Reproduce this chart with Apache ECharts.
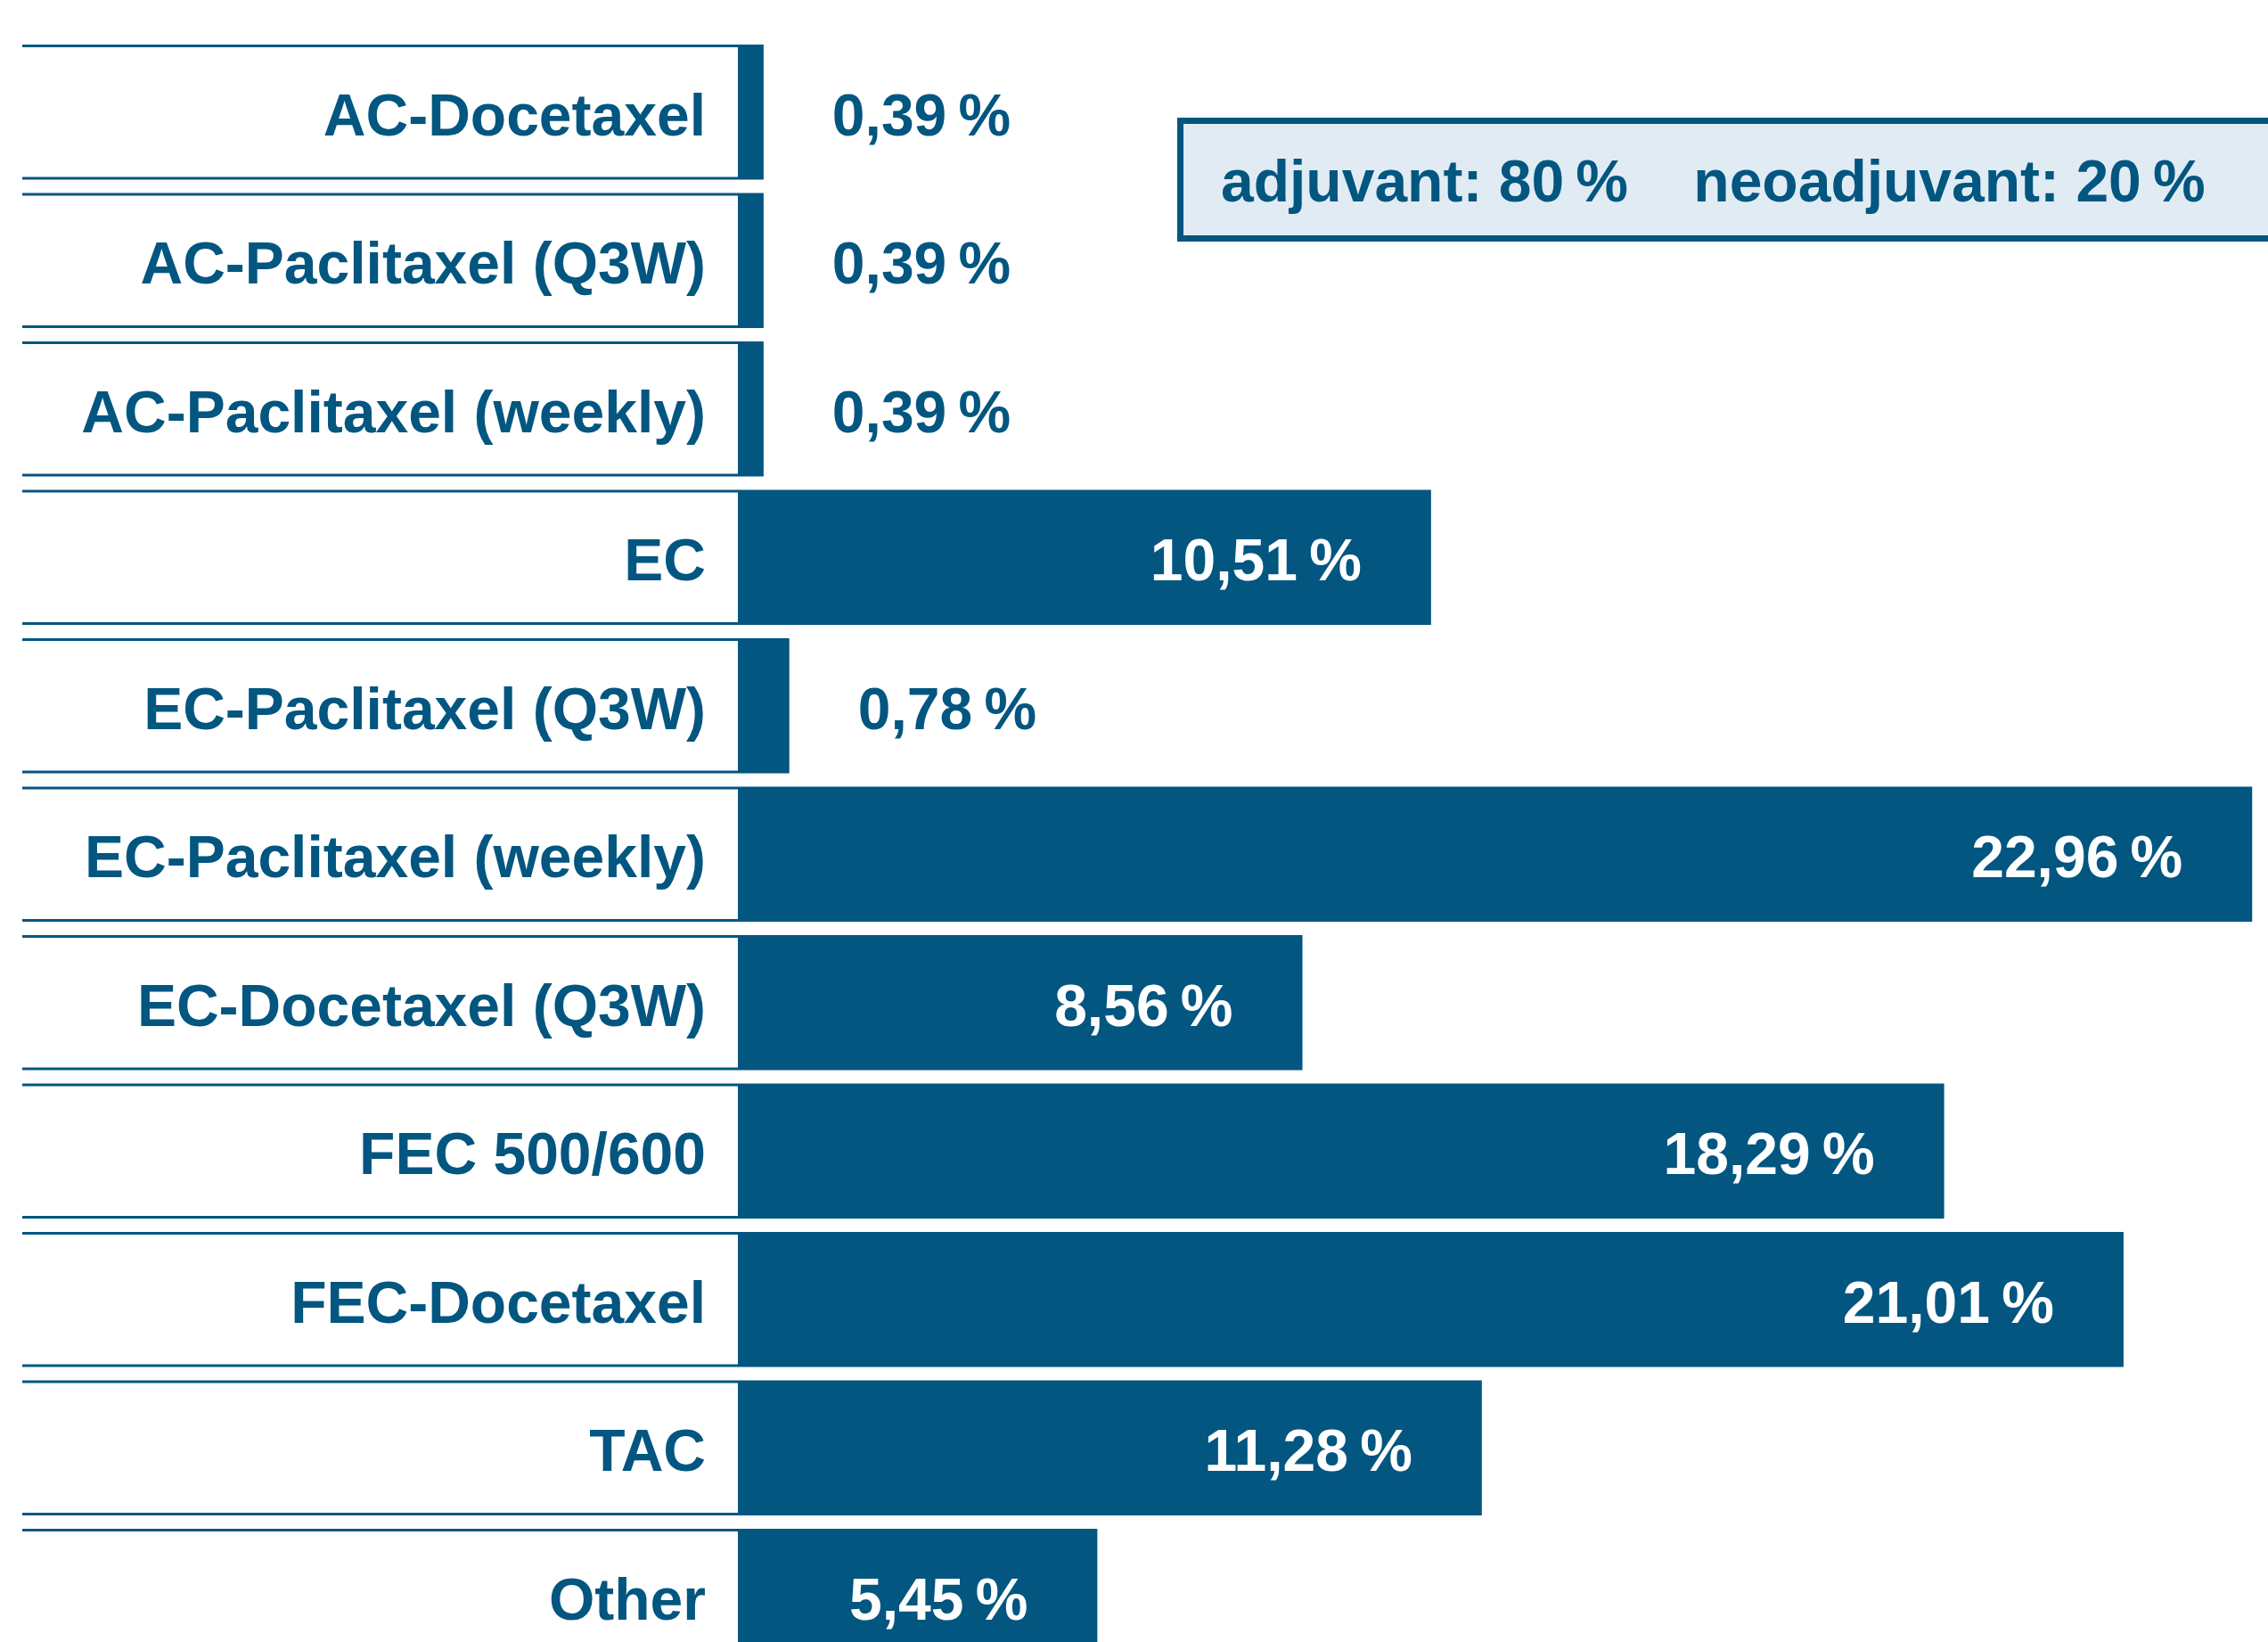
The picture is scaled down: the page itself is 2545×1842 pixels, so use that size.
<!DOCTYPE html>
<html lang="en">
<head>
    <meta charset="UTF-8">
    <script src="https://cdn.jsdelivr.net/npm/echarts/dist/echarts.min.js"></script>
    <style>
        html, body {margin: 0; padding: 0; background: #fff;}
    </style>
</head>
<body>
<div id="regimens" style="width: 2545px;height: 1842px"></div>
</body>

<script>
    // chemo regimens, share of patients in %
    var categories = ['AC-Docetaxel', 'AC-Paclitaxel (Q3W)', 'AC-Paclitaxel (weekly)', 'EC',
        'EC-Paclitaxel (Q3W)', 'EC-Paclitaxel (weekly)', 'EC-Docetaxel (Q3W)', 'FEC 500/600',
        'FEC-Docetaxel', 'TAC', 'Other'];
    var shares = [0.39, 0.39, 0.39, 10.51, 0.78, 22.96, 8.56, 18.29, 21.01, 11.28, 5.45];

    // setting box
    var settingNames = ['adjuvant', 'neoadjuvant'];
    var settingShares = [80, 20];

    var blue = '#025680';
    var font = '"Liberation Sans", Arial, sans-serif';
    var gapRatio = 0.09;

    function pct(v) {
        return v.toFixed(2).replace('.', ',') + '\u2009%';
    }

    var barData = shares.map(function (v) {
        var small = v < 3;
        return {
            value: v,
            label: {
                position: small ? 'right' : 'insideRight',
                distance: small ? 77 : 78,
                color: small ? blue : '#fff'
            }
        };
    });

    var settingText = settingNames.map(function (n, i) {
        return n + ': ' + settingShares[i] + '\u2009%';
    }).join('    ');

    var chart = echarts.init(document.getElementById('regimens'));

    var option = {
        animation: false,
        grid: {
            left: 828,
            right: 0,
            top: 42.5,
            height: 1831.5,   // last row runs past the bottom edge
            outerBoundsMode: 'none'
        },
        xAxis: {
            type: 'value',
            min: 0,
            max: 23.2,
            show: false
        },
        yAxis: {
            type: 'category',
            inverse: true,
            data: categories,
            axisLine: {show: false},
            axisTick: {show: false},
            splitLine: {show: false},
            axisLabel: {
                margin: 36,
                fontSize: 66,
                fontWeight: 'bold',
                fontFamily: font,
                color: blue,
                // nudge text a little below the row centre
                verticalAlign: 'top',
                lineHeight: 16
            }
        },
        series: [
            {
                // frame lines above and below each row label
                type: 'custom',
                clip: false,
                silent: true,
                z: 1,
                data: categories.map(function (c, i) { return [0, i]; }),
                encode: {x: 0, y: 1},
                renderItem: function (params, api) {
                    var p = api.coord([0, api.value(1)]);
                    var h = api.size([0, 1])[1] * (1 - gapRatio);
                    var top = p[1] - h / 2 + 1.5;
                    var bottom = p[1] + h / 2 - 1.5;
                    var style = {stroke: blue, lineWidth: 3};
                    return {
                        type: 'group',
                        children: [
                            {type: 'line', shape: {x1: 25, y1: top, x2: p[0], y2: top}, style: style},
                            {type: 'line', shape: {x1: 25, y1: bottom, x2: p[0], y2: bottom}, style: style}
                        ]
                    };
                }
            },
            {
                type: 'bar',
                z: 2,
                barCategoryGap: (gapRatio * 100) + '%',
                itemStyle: {color: blue},
                label: {
                    show: true,
                    fontSize: 66,
                    fontWeight: 'bold',
                    fontFamily: font,
                    offset: [0, 8],
                    formatter: function (p) { return pct(p.value); }
                },
                data: barData
            }
        ],
        graphic: [
            {
                type: 'rect',
                z: 10,
                shape: {x: 1324.5, y: 135.5, width: 1300, height: 132},
                style: {fill: '#e1ebf3', stroke: blue, lineWidth: 7}
            },
            {
                type: 'text',
                z: 11,
                x: 1370,
                y: 208,
                style: {
                    text: settingText,
                    fontSize: 66,
                    fontWeight: 'bold',
                    fontFamily: font,
                    fill: blue,
                    verticalAlign: 'middle'
                }
            }
        ]
    };

    chart.setOption(option);
</script>
</html>
